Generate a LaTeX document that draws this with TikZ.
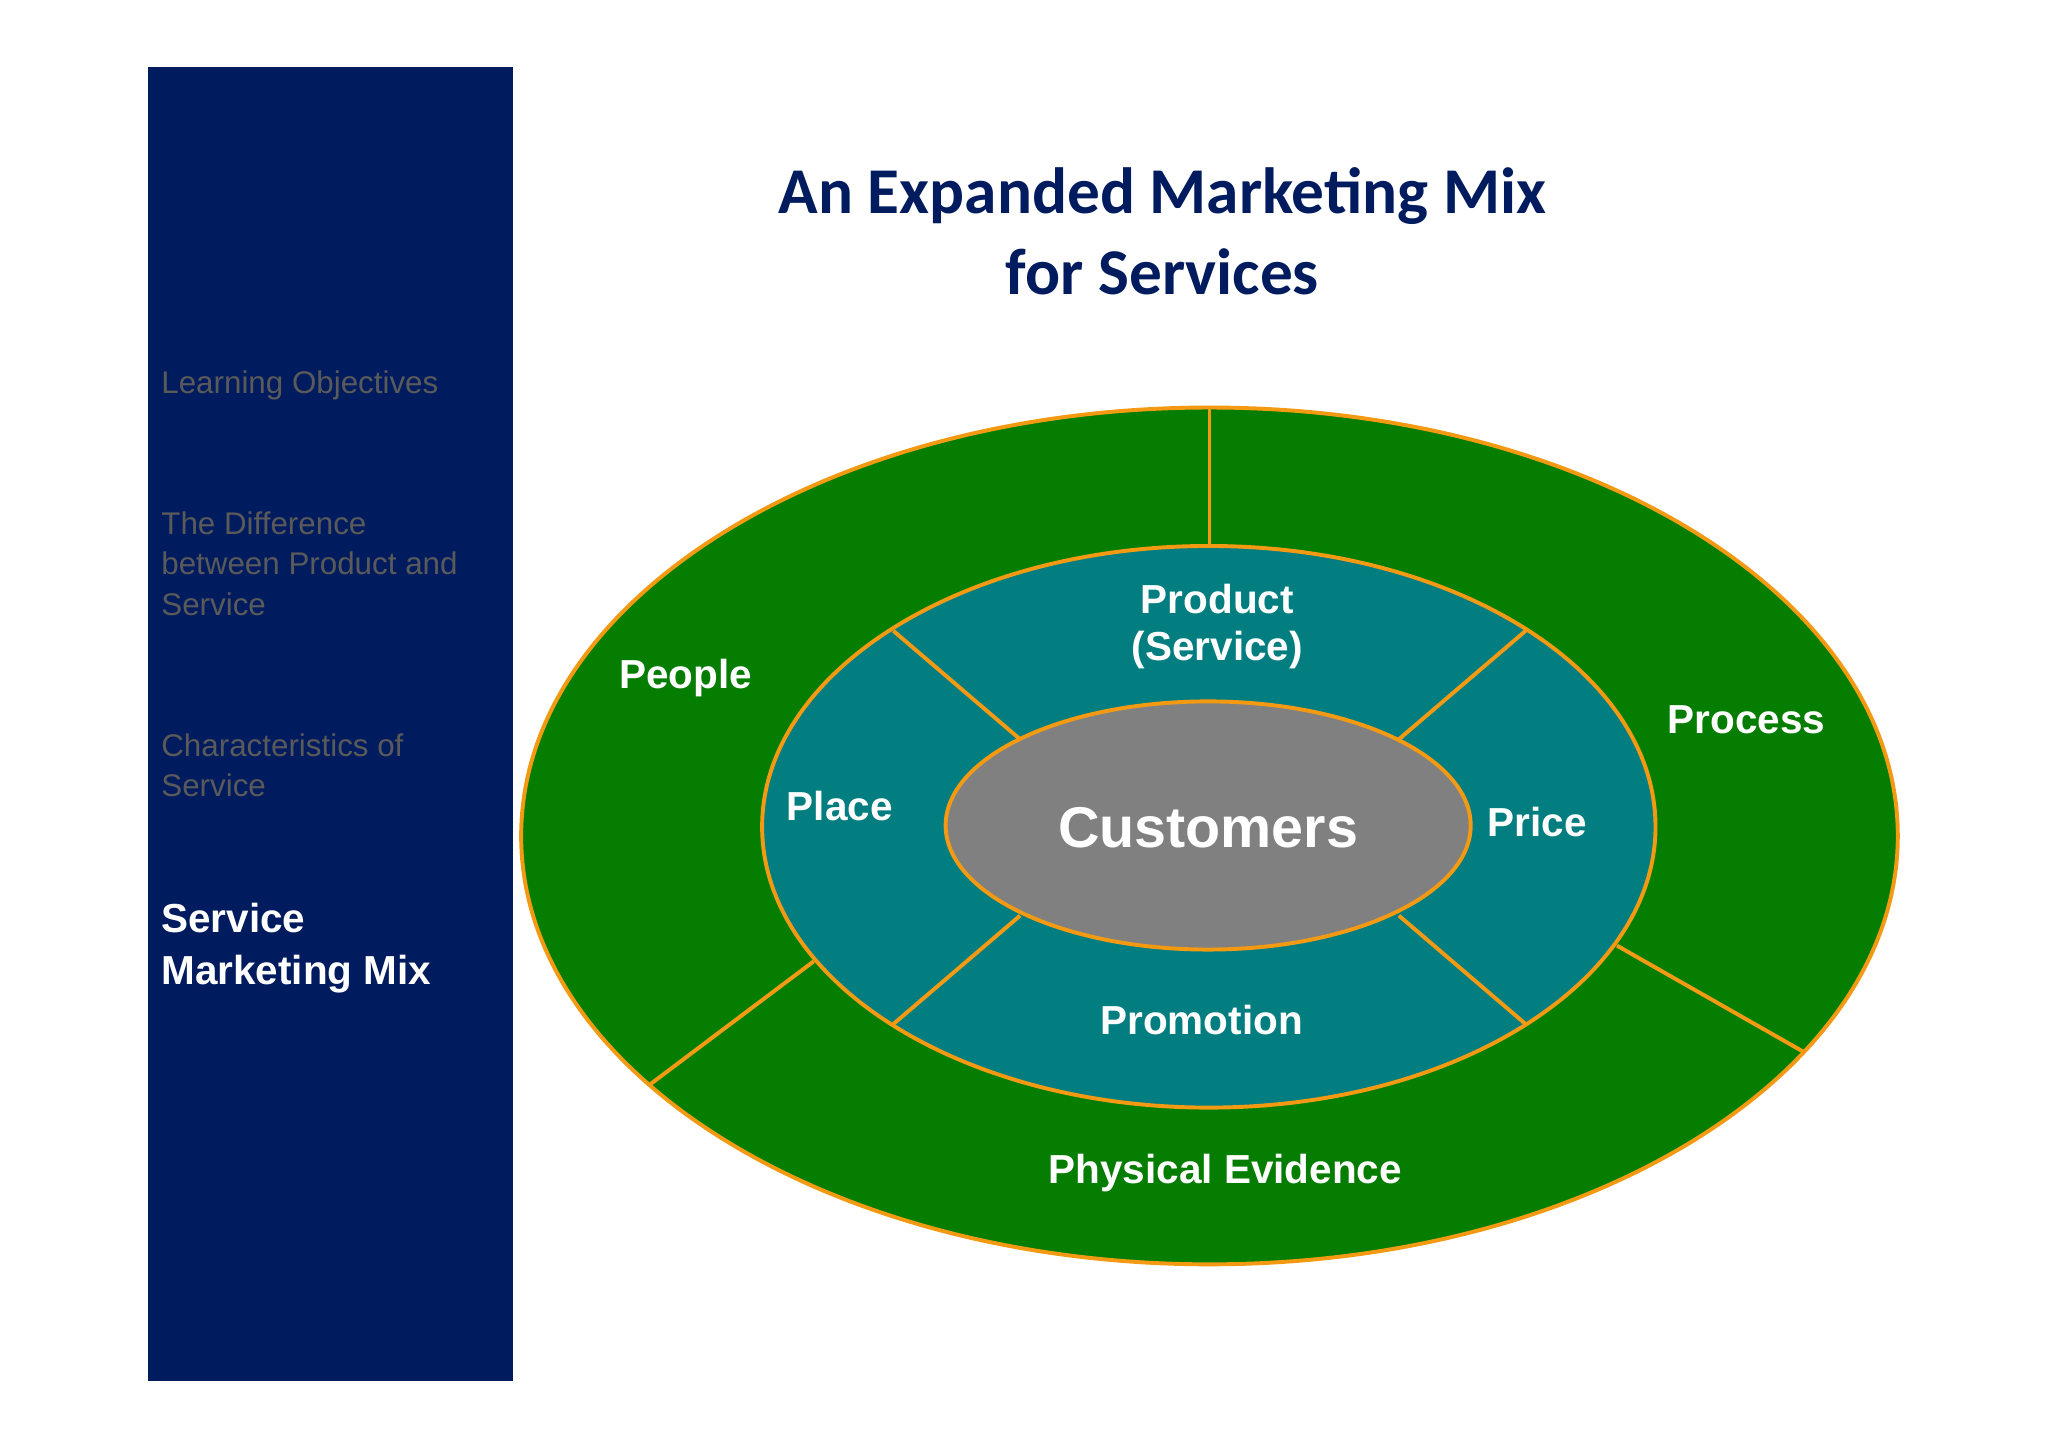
\documentclass[tikz,border=0pt]{standalone}
\usepackage{fontspec}
\setmainfont{Liberation Sans}
\newfontfamily\titlefont{Carlito}
\definecolor{navy}{HTML}{001B5E}
\definecolor{ringgreen}{HTML}{047D00}
\definecolor{teal}{HTML}{037E80}
\definecolor{core}{HTML}{808080}
\definecolor{edge}{HTML}{F39A12}
\definecolor{side}{HTML}{5A5A5A}
\begin{document}
\begin{tikzpicture}[x=1pt,y=-1pt,
  ring/.style={draw=edge,line width=3pt},
  lab/.style={text=white,font=\fontsize{31}{36}\selectfont\bfseries,align=center},
  sidetxt/.style={text=side,font=\fontsize{24}{31}\selectfont,align=left,anchor=north west}]
\useasboundingbox (0,0) rectangle (1568,1108);
\fill[white] (0,0) rectangle (1568,1108);
\fill[navy] (113,51) rectangle (393,1057);
\node[text=navy,font=\titlefont\fontsize{50}{62}\selectfont\bfseries,align=center] (title) at (890,177) {An Expanded Marketing Mix\\for Services};
\node[sidetxt] (s1) at (120,280) {Learning Objectives};
\node[sidetxt] (s2) at (120,388) {The Difference\\between Product and\\Service};
\node[sidetxt] (s3) at (120,558) {Characteristics of\\Service};
\node[sidetxt,text=white,font=\fontsize{31}{40}\selectfont\bfseries] (s4) at (120,688) {Service\\Marketing Mix};
% rings
\filldraw[ring,fill=ringgreen] (926,640) ellipse [x radius=527,y radius=328];
\draw[ring] (926,312) -- (926,420);
\draw[ring] (498,830) -- (623,736);
\draw[ring] (1238,724) -- (1382,806);
\filldraw[ring,fill=teal] (925.5,633) ellipse [x radius=342,y radius=215];
\draw[ring] (684,483) -- (781,566);
\draw[ring] (1168,483) -- (1071,566);
\draw[ring] (684,784) -- (781,701);
\draw[ring] (1168,784) -- (1071,701);
\filldraw[ring,fill=core] (925,632) ellipse [x radius=201,y radius=95];
\node[lab] (people) at (525,519) {People};
\node[lab] (process) at (1337,551) {Process};
\node[lab] (phys) at (938,898) {Physical Evidence};
\node[lab] (product) at (932,480) {Product\\(Service)};
\node[lab] (place) at (643,617) {Place};
\node[lab] (price) at (1177,629) {Price};
\node[lab] (promo) at (920,781) {Promotion};
\node[lab,font=\fontsize{44}{50}\selectfont\bfseries] (cust) at (925,634) {Customers};
\end{tikzpicture}
\end{document}
